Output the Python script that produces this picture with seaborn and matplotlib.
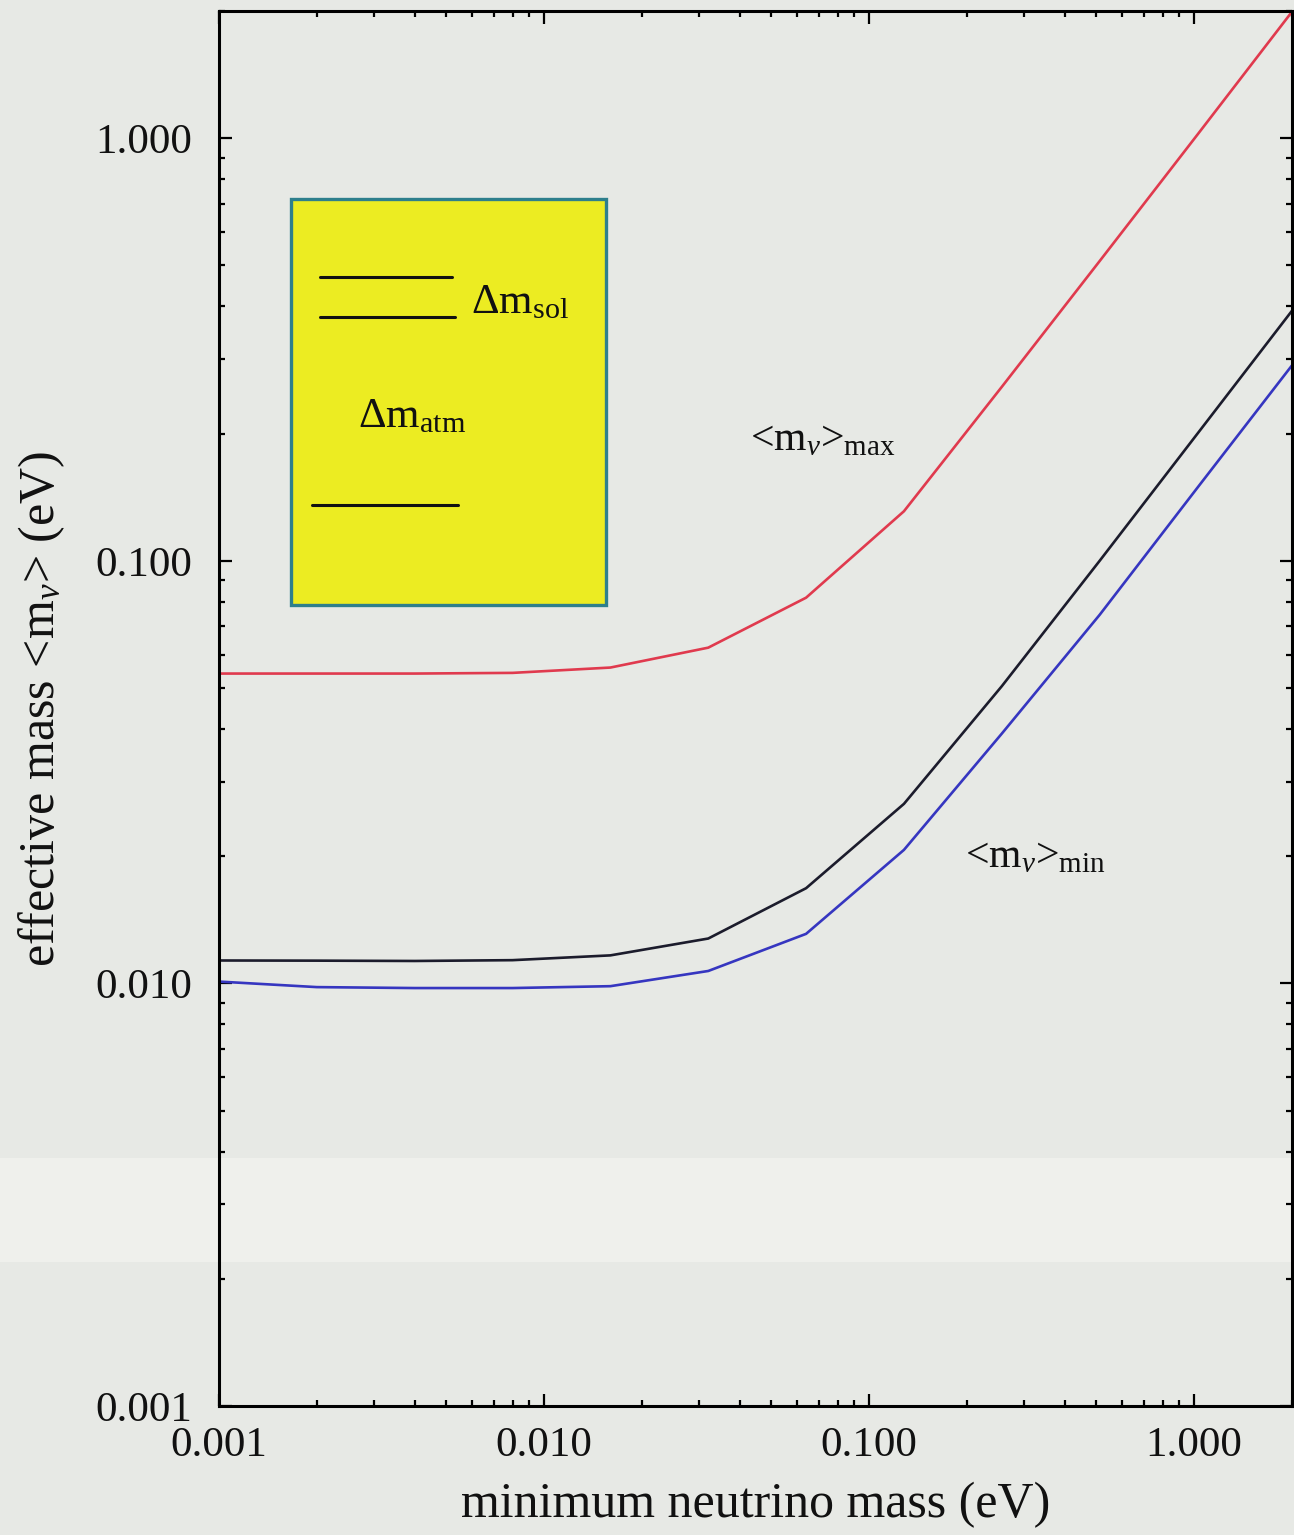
import matplotlib
matplotlib.use("Agg")
import matplotlib.pyplot as plt
from matplotlib.patches import Rectangle
from matplotlib.lines import Line2D
from matplotlib.ticker import LogLocator, FormatStrFormatter, NullFormatter
import seaborn as sns
import pandas as pd

# lightest neutrino mass (eV)
m_lightest = [0.001, 0.002, 0.004, 0.008, 0.016, 0.032, 0.064, 0.128, 0.256, 0.512, 1.024, 2.048]
# effective Majorana mass: upper bound
m_eff_max = [0.0541, 0.0541, 0.0541, 0.0543, 0.0559, 0.0623, 0.0818, 0.131, 0.258, 0.512, 1.02, 2.04]
# effective Majorana mass: lower bounds (two solar solutions)
m_eff_min_a = [0.01133, 0.01132, 0.0113, 0.01135, 0.01165, 0.01277, 0.0168, 0.0266, 0.0505, 0.100, 0.200, 0.400]
m_eff_min_b = [0.0101, 0.0098, 0.00975, 0.00975, 0.00985, 0.0107, 0.0131, 0.0207, 0.0390, 0.0745, 0.149, 0.297]

tick_values = [0.001, 0.01, 0.1, 1.0]

BG = "#e7e9e5"

sns.set_theme(style="ticks")
plt.rcParams["font.family"] = ["Liberation Serif", "DejaVu Serif"]
plt.rcParams["mathtext.fontset"] = "custom"
plt.rcParams["mathtext.rm"] = "Liberation Serif"
plt.rcParams["mathtext.it"] = "Liberation Serif:italic"
plt.rcParams["mathtext.bf"] = "Liberation Serif:bold"

fig = plt.figure(figsize=(12.94, 15.35), dpi=100, facecolor=BG)
ax = fig.add_axes([219 / 1294, 1 - 1406 / 1535, (1292 - 219) / 1294, (1406 - 11) / 1535])
ax.set_facecolor("none")

# faint light band across the sheet
fig.patches.append(Rectangle((0, 1 - 1262 / 1535), 1, 104 / 1535, transform=fig.transFigure,
                             facecolor="#eff0ec", edgecolor="none", zorder=-5))

df = pd.DataFrame({"m0": m_lightest, "max": m_eff_max, "min_a": m_eff_min_a, "min_b": m_eff_min_b})
sns.lineplot(data=df, x="m0", y="max", ax=ax, color="#e03a4e", lw=1.9, estimator=None, sort=False)
sns.lineplot(data=df, x="m0", y="min_a", ax=ax, color="#1c1c2c", lw=1.9, estimator=None, sort=False)
sns.lineplot(data=df, x="m0", y="min_b", ax=ax, color="#3636c0", lw=1.9, estimator=None, sort=False)

ax.set_xscale("log")
ax.set_yscale("log")
ax.set_xlim(0.001, 2.0)
ax.set_ylim(0.001, 2.0)

for axis in (ax.xaxis, ax.yaxis):
    axis.set_major_locator(LogLocator(base=10, numticks=10))
    axis.set_minor_locator(LogLocator(base=10, subs=range(2, 10), numticks=100))
    axis.set_major_formatter(FormatStrFormatter("%.3f"))
    axis.set_minor_formatter(NullFormatter())
ax.set_xticks(tick_values)
ax.set_yticks(tick_values)

ax.tick_params(which="both", direction="in", top=True, right=True, color="black", width=1.6)
ax.tick_params(which="major", length=9, labelsize=31, labelcolor="#111111")
ax.tick_params(which="minor", length=4.5)
ax.tick_params(axis="y", which="major", pad=19)
ax.tick_params(axis="x", which="major", pad=15)

for s in ax.spines.values():
    s.set_linewidth(2.2)
    s.set_color("black")

ax.set_xlabel("minimum neutrino mass (eV)", fontsize=36, color="#111111")
ax.set_ylabel(r"effective mass <m$_{\nu}$> (eV)", fontsize=36, color="#111111")
ax.xaxis.set_label_coords(0.5, -0.054)
ax.yaxis.set_label_coords(-0.142, 0.5)

# mass ordering inset
ax.add_patch(Rectangle((0.0671, 0.5742), 0.2936, 0.2910, transform=ax.transAxes,
                       facecolor="#ecec22", edgecolor="#2e7f8c", lw=2.4, zorder=3))
for y0, x0, x1 in [(0.8093, 0.0941, 0.2171), (0.7806, 0.0941, 0.2199), (0.6459, 0.0867, 0.2227)]:
    ax.add_line(Line2D([x0, x1], [y0, y0], transform=ax.transAxes, color="#111111", lw=2.2, zorder=4))
ax.text(0.2349, 0.7835, r"Δm$_{\mathrm{sol}}$", transform=ax.transAxes, fontsize=31,
        ha="left", va="baseline", color="#111111", zorder=5)
ax.text(0.1295, 0.7018, r"Δm$_{\mathrm{atm}}$", transform=ax.transAxes, fontsize=31,
        ha="left", va="baseline", color="#111111", zorder=5)

# curve annotations
ax.text(0.4949, 0.6853, r"<m$_{\nu}$>$_{\mathrm{max}}$", transform=ax.transAxes, fontsize=30,
        ha="left", va="baseline", color="#111111")
ax.text(0.6952, 0.3864, r"<m$_{\nu}$>$_{\mathrm{min}}$", transform=ax.transAxes, fontsize=30,
        ha="left", va="baseline", color="#111111")

fig.savefig("out.png", dpi=100, facecolor=BG)
